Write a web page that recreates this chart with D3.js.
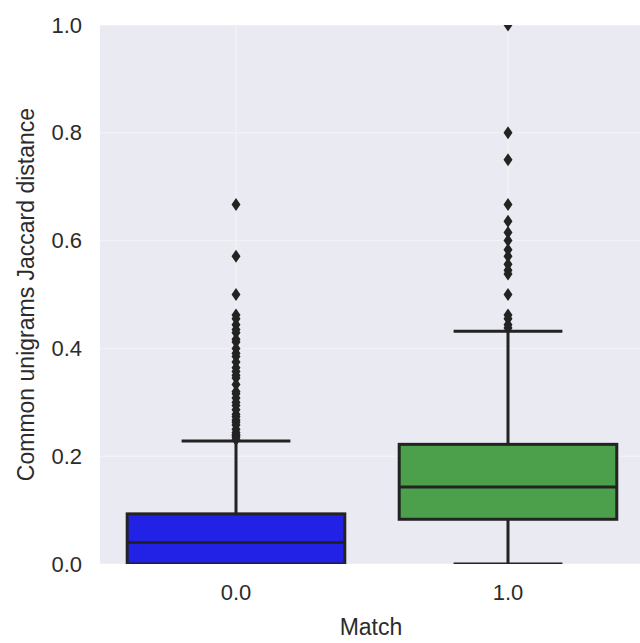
<!DOCTYPE html>
<html>
<head>
<meta charset="utf-8">
<script src="https://cdn.jsdelivr.net/npm/d3@7"></script>
<style>
  html, body { margin: 0; padding: 0; background: #ffffff; }
  svg { display: block; }
  text { font-family: "Liberation Sans", Arial, Helvetica, sans-serif; fill: #2b2b2b; }
</style>
</head>
<body>
<svg id="chart" width="640" height="643"></svg>
<script>
// Groups on the x axis
const categories = ["0.0", "1.0"];

// Box summary per group: lower whisker, Q1, median, Q3, upper whisker
const whiskerLow  = [0.000, 0.000];
const q1          = [0.000, 0.083];
const median      = [0.040, 0.143];
const q3          = [0.093, 0.222];
const whiskerHigh = [0.228, 0.432];

// Points beyond the whiskers
const outliers0 = [0.667, 0.571, 0.5, 0.462, 0.455, 0.444, 0.435, 0.429, 0.417, 0.412,
                   0.4, 0.391, 0.385, 0.375, 0.364, 0.357, 0.35, 0.345, 0.333, 0.32,
                   0.316, 0.308, 0.3, 0.294, 0.286, 0.278, 0.273, 0.267, 0.263, 0.258,
                   0.25, 0.244, 0.24, 0.238, 0.235, 0.231];
const outliers1 = [1.0, 0.8, 0.75, 0.667, 0.636, 0.615, 0.6, 0.583, 0.571, 0.556,
                   0.545, 0.538, 0.5, 0.462, 0.455, 0.444, 0.438];
const outliers = [outliers0, outliers1];

const yTicks = [0.0, 0.2, 0.4, 0.6, 0.8, 1.0];
const boxColors = ["#2222e6", "#4ca04c"];

const svg = d3.select("#chart");
const plot = { left: 100, right: 644, top: 25, bottom: 564 };

const x = d3.scaleBand().domain(categories).range([plot.left, plot.right]).padding(0);
const y = d3.scaleLinear().domain([0, 1]).range([plot.bottom, plot.top]);

svg.append("defs").append("clipPath").attr("id", "plotclip")
  .append("rect")
  .attr("x", plot.left).attr("y", plot.top)
  .attr("width", plot.right - plot.left).attr("height", plot.bottom - plot.top);

// Axes background
svg.append("rect")
  .attr("x", plot.left).attr("y", plot.top)
  .attr("width", plot.right - plot.left).attr("height", plot.bottom - plot.top)
  .attr("fill", "#eaeaf2");

// Grid
const grid = svg.append("g").attr("stroke", "#ffffff").attr("stroke-width", 1.5).attr("opacity", 0.35);
grid.selectAll("line.h").data(yTicks).join("line")
  .attr("x1", plot.left).attr("x2", plot.right)
  .attr("y1", d => y(d)).attr("y2", d => y(d));
grid.selectAll("line.v").data(categories).join("line")
  .attr("x1", d => x(d) + x.bandwidth() / 2).attr("x2", d => x(d) + x.bandwidth() / 2)
  .attr("y1", plot.top).attr("y2", plot.bottom);

const lineColor = "#232323";
const lw = 3;
const boxW = x.bandwidth() * 0.8;
const capW = boxW / 2;

const marks = svg.append("g").attr("clip-path", "url(#plotclip)");

categories.forEach((c, i) => {
  const cx = x(c) + x.bandwidth() / 2;
  const g = marks.append("g");

  // whiskers
  g.append("line")
    .attr("x1", cx).attr("x2", cx)
    .attr("y1", y(q3[i])).attr("y2", y(whiskerHigh[i]))
    .attr("stroke", lineColor).attr("stroke-width", lw);
  g.append("line")
    .attr("x1", cx).attr("x2", cx)
    .attr("y1", y(q1[i])).attr("y2", y(whiskerLow[i]))
    .attr("stroke", lineColor).attr("stroke-width", lw);

  // caps
  [whiskerLow[i], whiskerHigh[i]].forEach(v => {
    g.append("line")
      .attr("x1", cx - capW / 2).attr("x2", cx + capW / 2)
      .attr("y1", y(v)).attr("y2", y(v))
      .attr("stroke", lineColor).attr("stroke-width", lw);
  });

  // box
  g.append("rect")
    .attr("x", cx - boxW / 2).attr("width", boxW)
    .attr("y", y(q3[i])).attr("height", y(q1[i]) - y(q3[i]))
    .attr("fill", boxColors[i])
    .attr("stroke", lineColor).attr("stroke-width", lw);

  // median
  g.append("line")
    .attr("x1", cx - boxW / 2).attr("x2", cx + boxW / 2)
    .attr("y1", y(median[i])).attr("y2", y(median[i]))
    .attr("stroke", lineColor).attr("stroke-width", lw);

  // fliers as thin diamonds
  g.selectAll("path.flier").data(outliers[i]).join("path")
    .attr("d", d => {
      const py = y(d), hw = 4.5, hh = 6.5;
      return `M${cx},${py - hh}L${cx + hw},${py}L${cx},${py + hh}L${cx - hw},${py}Z`;
    })
    .attr("fill", lineColor);
});

// Y tick labels
svg.append("g").selectAll("text").data(yTicks).join("text")
  .attr("x", 82).attr("y", d => y(d))
  .attr("text-anchor", "end").attr("dominant-baseline", "central")
  .attr("font-size", 22)
  .text(d => d3.format(".1f")(d));

// X tick labels
svg.append("g").selectAll("text").data(categories).join("text")
  .attr("x", d => x(d) + x.bandwidth() / 2).attr("y", 600)
  .attr("text-anchor", "middle")
  .attr("font-size", 22)
  .text(d => d);

// Axis titles
svg.append("text")
  .attr("x", 371).attr("y", 635)
  .attr("text-anchor", "middle").attr("font-size", 23)
  .text("Match");

svg.append("text")
  .attr("transform", `translate(34,${(plot.top + plot.bottom) / 2}) rotate(-90)`)
  .attr("text-anchor", "middle").attr("font-size", 23)
  .text("Common unigrams Jaccard distance");
</script>
</body>
</html>
